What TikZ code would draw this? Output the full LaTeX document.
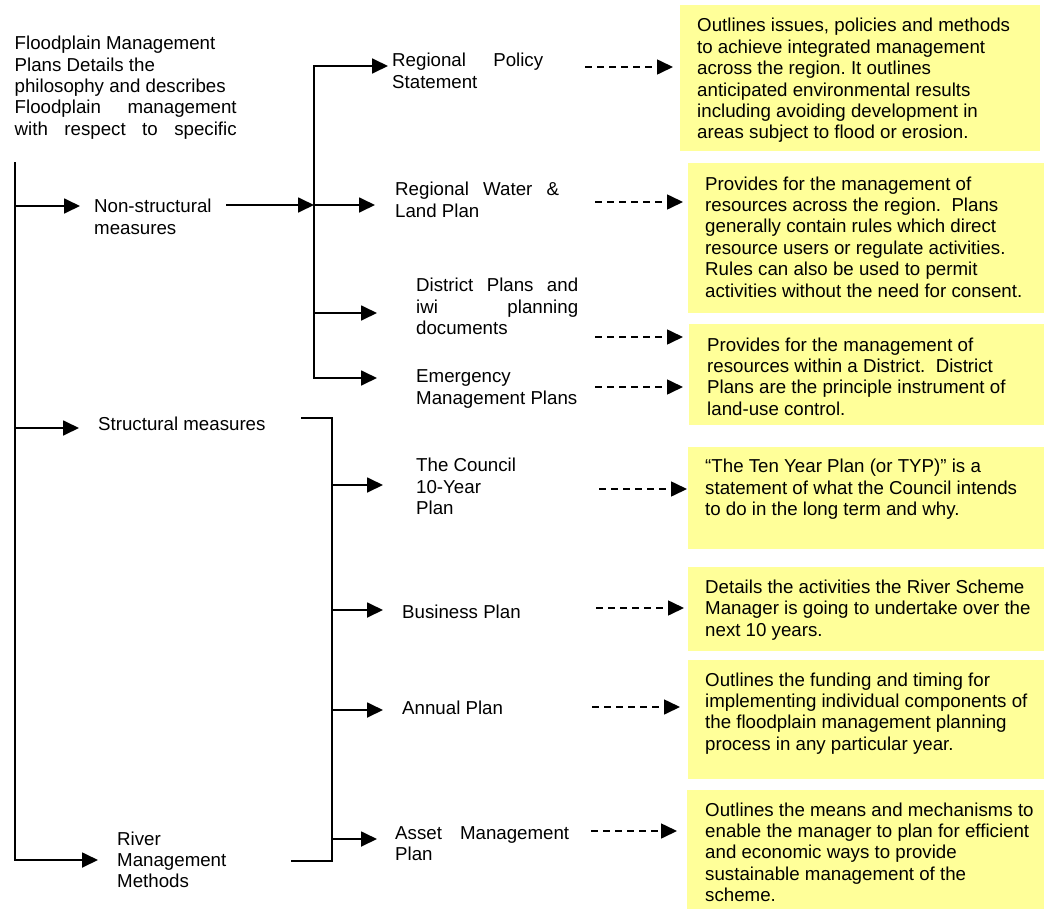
\documentclass[tikz,border=0pt]{standalone}
\usepackage{fontspec}
\setmainfont{Liberation Sans}
\usetikzlibrary{arrows.meta,calc}
\definecolor{boxyellow}{HTML}{FFFF99}
\tikzset{
  txt/.style={inner sep=0pt, anchor=north west, align=left, font=\fontsize{18.7}{21.4}\selectfont\frenchspacing},
  ybox/.style={fill=boxyellow, draw=none, inner sep=0pt, anchor=north west},
  solidline/.style={line width=1.8pt, line cap=rect},
  arr/.style={line width=1.8pt, line cap=rect, -{Triangle[length=16pt,width=15pt]}},
  darr/.style={line width=1.6pt, dash pattern=on 7pt off 5pt, -{Triangle[length=16pt,width=15pt]}},
}
\begin{document}
\begin{tikzpicture}[x=1pt,y=-1pt]
\useasboundingbox (0,0) rectangle (1044,910);

% yellow boxes
\node[ybox, minimum width=360pt, minimum height=146pt] (b1) at (680,5) {};
\node[ybox, minimum width=356pt, minimum height=150pt] (b2) at (688,163) {};
\node[ybox, minimum width=355pt, minimum height=101pt] (b3) at (689,324) {};
\node[ybox, minimum width=356pt, minimum height=102pt] (b4) at (688,447) {};
\node[ybox, minimum width=356pt, minimum height=84pt] (b5) at (688,567) {};
\node[ybox, minimum width=356pt, minimum height=119pt] (b6) at (688,660) {};
\node[ybox, minimum width=357pt, minimum height=119pt] (b7) at (687,790) {};

\node[txt] (t1) at (697,16.7) {\strut Outlines issues, policies and methods\\to achieve integrated management\\across the region. It outlines\\anticipated environmental results\\including avoiding development in\\areas subject to flood or erosion.};
\node[txt] (t2) at (705,175) {\strut Provides for the management of\\resources across the region.~ Plans\\generally contain rules which direct\\resource users or regulate activities.\\Rules can also be used to permit\\activities without the need for consent.};
\node[txt] (t3) at (707,336) {\strut Provides for the management of\\resources within a District.~ District\\Plans are the principle instrument of\\land-use control.};
\node[txt] (t4) at (705,457.7) {\strut “The Ten Year Plan (or TYP)” is a\\statement of what the Council intends\\to do in the long term and why.};
\node[txt] (t5) at (705,578.4) {\strut Details the activities the River Scheme\\Manager is going to undertake over the\\next 10 years.};
\node[txt] (t6) at (705,671) {\strut Outlines the funding and timing for\\implementing individual components of\\the floodplain management planning\\process in any particular year.};
\node[txt] (t7) at (705,801) {\strut Outlines the means and mechanisms to\\enable the manager to plan for efficient\\and economic ways to provide\\sustainable management of the\\scheme.};

% left texts
\node[txt] (intro) at (14.5,34.5) {\strut Floodplain Management\\Plans Details the\\philosophy and describes\\\makebox[222pt][s]{Floodplain management}\\\makebox[222pt][s]{with respect to specific}};
\node[txt] (ns) at (94,197.7) {\strut Non-structural\\measures};
\node[txt] (st) at (98,415) {\strut Structural measures};
\node[txt] (rm) at (117,830) {\strut River\\Management\\Methods};

% plan texts
\node[txt] (rps) at (392,51.7) {\strut\makebox[151pt][s]{Regional Policy}\\Statement};
\node[txt] (rwl) at (395,180.7) {\strut\makebox[164pt][s]{Regional Water \&}\\Land Plan};
\node[txt] (dp) at (416,276.7) {\strut\makebox[162pt][s]{District Plans and}\\\makebox[162pt][s]{iwi planning}\\documents};
\node[txt] (em) at (416,367.7) {\strut Emergency\\Management Plans};
\node[txt] (tc) at (416,456.7) {\strut The Council\\10-Year\\Plan};
\node[txt] (bp) at (402,603.4) {\strut Business Plan};
\node[txt] (ap) at (402,699) {\strut Annual Plan};
\node[txt] (am) at (395,824.4) {\strut\makebox[174pt][s]{Asset Management}\\Plan};

% main bus
\coordinate (busTop) at (15,163);
\coordinate (busBot) at (15,860);
\coordinate (nsTip) at (80,206);
\coordinate (stTip) at (79,428);
\coordinate (rmTip) at (98,860);
\draw[arr] (busTop) -- (busBot) -- (rmTip);
\draw[arr] (busTop |- nsTip) -- (nsTip);
\draw[arr] (busTop |- stTip) -- (stTip);

% bracket 1 (non-structural)
\coordinate (nsOut) at (227,205);
\coordinate (k1Top) at (314,66);
\coordinate (k1Bot) at (314,378);
\coordinate (rpsTip) at (388,66);
\coordinate (rwlTip) at (375,205);
\coordinate (dpTip) at (377,313);
\coordinate (emTip) at (377,378);
\draw[arr] (nsOut) -- (k1Top |- nsOut);
\draw[arr] (k1Top) -- (rpsTip);
\draw[arr] (k1Top) -- (k1Bot) -- (emTip);
\draw[arr] (k1Top |- rwlTip) -- (rwlTip);
\draw[arr] (k1Top |- dpTip) -- (dpTip);

% bracket 2 (structural / river management)
\coordinate (k2In) at (302,418);
\coordinate (k2Top) at (332,418);
\coordinate (k2Bot) at (332,861);
\coordinate (k2Out) at (292,861);
\coordinate (tcTip) at (383,485);
\coordinate (bpTip) at (383,610);
\coordinate (apTip) at (383,710);
\coordinate (amTip) at (377,839);
\draw[solidline] (k2In) -- (k2Top) -- (k2Bot) -- (k2Out);
\draw[arr] (k2Top |- tcTip) -- (tcTip);
\draw[arr] (k2Top |- bpTip) -- (bpTip);
\draw[arr] (k2Top |- apTip) -- (apTip);
\draw[arr] (k2Top |- amTip) -- (amTip);

% dashed connectors
\coordinate (d1) at (585,67);
\coordinate (d2) at (595,202);
\coordinate (d3) at (595,337);
\coordinate (d4) at (595,387);
\coordinate (d5) at (599,489);
\coordinate (d6) at (596,608);
\coordinate (d7) at (592,707);
\coordinate (d8) at (591,831);
\draw[darr, shorten >=7pt] (d1) -- (d1 -| b1.west);
\draw[darr, shorten >=5pt] (d2) -- (d2 -| b2.west);
\draw[darr, shorten >=6pt] (d3) -- (d3 -| b3.west);
\draw[darr, shorten >=6pt] (d4) -- (d4 -| b3.west);
\draw[darr, shorten >=1pt] (d5) -- (d5 -| b4.west);
\draw[darr, shorten >=4pt] (d6) -- (d6 -| b5.west);
\draw[darr, shorten >=8pt] (d7) -- (d7 -| b6.west);
\draw[darr, shorten >=10pt] (d8) -- (d8 -| b7.west);
\end{tikzpicture}
\end{document}
